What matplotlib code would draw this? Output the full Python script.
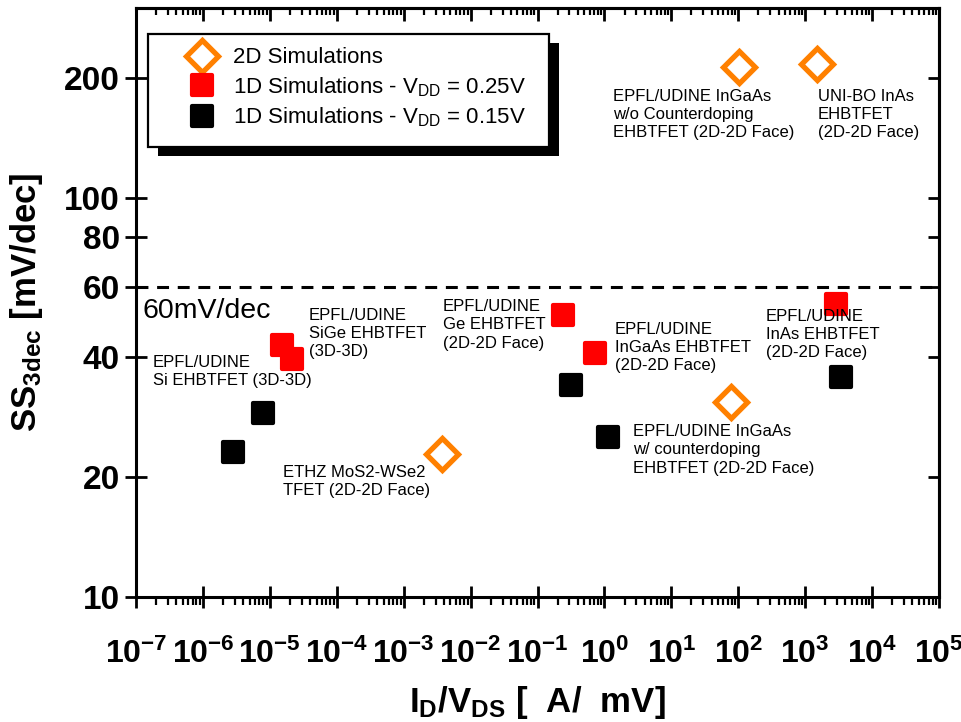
import numpy as np
import matplotlib.pyplot as plt
from matplotlib.markers import MarkerStyle
from matplotlib.patches import Rectangle
from matplotlib.ticker import LogLocator, FuncFormatter, NullFormatter, NullLocator

plt.rcParams['font.family'] = 'Liberation Sans'
plt.rcParams['mathtext.fontset'] = 'custom'
plt.rcParams['mathtext.rm'] = 'Liberation Sans'
plt.rcParams['mathtext.bf'] = 'Liberation Sans:bold'
plt.rcParams['mathtext.it'] = 'Liberation Sans:italic'

# 2D simulations
sim2d_x = [3.7e-3, 78, 104, 1500]
sim2d_y = [22.9, 30.9, 214, 217]

# 1D simulations, VDD = 0.25 V
vdd25_x = [1.51e-5, 2.12e-5, 0.239, 0.726, 2900]
vdd25_y = [42.8, 39.5, 50.9, 40.9, 54.2]

# 1D simulations, VDD = 0.15 V
vdd15_x = [2.85e-6, 7.8e-6, 0.318, 1.15, 3410]
vdd15_y = [23.1, 28.9, 34.0, 25.2, 35.7]

ss_thermal = 60
y_ticks = [10, 20, 40, 60, 80, 100, 200]

device_labels = [
    "EPFL/UDINE\nSiGe EHBTFET\n(3D-3D)",
    "EPFL/UDINE\nSi EHBTFET (3D-3D)",
    "ETHZ MoS2-WSe2\nTFET (2D-2D Face)",
    "EPFL/UDINE\nGe EHBTFET\n(2D-2D Face)",
    "EPFL/UDINE\nInGaAs EHBTFET\n(2D-2D Face)",
    "EPFL/UDINE\nInAs EHBTFET\n(2D-2D Face)",
    "EPFL/UDINE InGaAs\nw/ counterdoping\nEHBTFET (2D-2D Face)",
    "EPFL/UDINE InGaAs\nw/o Counterdoping\nEHBTFET (2D-2D Face)",
    "UNI-BO InAs\nEHBTFET\n(2D-2D Face)",
]
# label anchors (top-left corner) in axes fraction
label_pos = [
    (0.2154, 0.4907), (0.0212, 0.4109), (0.1831, 0.2241),
    (0.3823, 0.5059), (0.5965, 0.4669), (0.7846, 0.4890),
    (0.6189, 0.2937), (0.5940, 0.8625), (0.8493, 0.8625),
]

orange = '#ff8000'
red = '#ff0000'

fig = plt.figure(figsize=(9.62, 7.22), dpi=100)
ax = fig.add_axes([0.1414, 0.1731, 0.8347, 0.8158])
ax.set_xscale('log')
ax.set_yscale('log')
ax.set_xlim(1e-7, 1e5)
ax.set_ylim(10, 300)

ax.axhline(ss_thermal, color='k', lw=2.2, dashes=(3.9, 2.85), zorder=1)

sq = MarkerStyle('s', joinstyle='round')
dia = MarkerStyle('D', joinstyle='miter')
ax.plot(sim2d_x, sim2d_y, ls='none', marker=dia, ms=16, mfc='white',
        mec=orange, mew=3.8, label='2D Simulations', zorder=3)
ax.plot(vdd25_x, vdd25_y, ls='none', marker=sq, ms=15, mfc=red,
        mec=red, mew=3, label=r'1D Simulations - V$_{\mathrm{DD}}$ = 0.25V', zorder=3)
ax.plot(vdd15_x, vdd15_y, ls='none', marker=sq, ms=15, mfc='k',
        mec='k', mew=3, label=r'1D Simulations - V$_{\mathrm{DD}}$ = 0.15V', zorder=3)

for txt, (tx, ty) in zip(device_labels, label_pos):
    ax.text(tx, ty, txt, transform=ax.transAxes, ha='left', va='top',
            fontsize=12, linespacing=1.27, zorder=4)

ax.text(0.008, 0.508, '60mV/dec', transform=ax.transAxes, ha='left',
        va='top', fontsize=20.5)

# legend box with offset shadow
ax.add_patch(Rectangle((0.0274, 0.749), 0.4994, 0.192, transform=ax.transAxes,
                       facecolor='k', edgecolor='none', zorder=5, clip_on=False))
ax.add_patch(Rectangle((0.0149, 0.764), 0.4994, 0.192, transform=ax.transAxes,
                       facecolor='white', edgecolor='k', lw=1.6, zorder=6,
                       clip_on=False))
leg = ax.legend(loc='upper left', bbox_to_anchor=(0.0611, 0.933),
                frameon=False, fontsize=16, handlelength=1.5,
                handletextpad=0.65, labelspacing=0.3, borderpad=0,
                borderaxespad=0, numpoints=1)
leg.set_zorder(7)

# axes styling
for s in ax.spines.values():
    s.set_linewidth(2.2)

ax.xaxis.set_major_locator(LogLocator(base=10, numticks=20))
ax.xaxis.set_minor_locator(LogLocator(base=10, subs=np.arange(2, 10), numticks=20))
ax.xaxis.set_major_formatter(FuncFormatter(
    lambda v, p: r'$\mathbf{10^{%d}}$' % round(np.log10(v))))
ax.xaxis.set_minor_formatter(NullFormatter())
ax.set_yticks(y_ticks, [str(t) for t in y_ticks])
ax.yaxis.set_minor_locator(NullLocator())

ax.tick_params(which='major', direction='inout', length=16, width=2)
ax.tick_params(axis='y', labelsize=24)
ax.tick_params(axis='x', which='major', labelsize=23, pad=22)
ax.tick_params(axis='x', which='minor', direction='out', length=6, width=1.6)
for lbl in ax.get_yticklabels():
    lbl.set_fontweight('bold')

top = ax.secondary_xaxis('top')
top.xaxis.set_major_locator(LogLocator(base=10, numticks=20))
top.xaxis.set_minor_locator(LogLocator(base=10, subs=np.arange(2, 10), numticks=20))
top.xaxis.set_major_formatter(NullFormatter())
top.xaxis.set_minor_formatter(NullFormatter())
top.tick_params(which='major', direction='in', length=9, width=2)
top.tick_params(which='minor', direction='in', length=5, width=1.6)
top.spines['top'].set_linewidth(2.2)

right = ax.secondary_yaxis('right')
right.set_yticks(y_ticks)
right.yaxis.set_minor_locator(NullLocator())
right.yaxis.set_major_formatter(NullFormatter())
right.tick_params(which='major', direction='in', length=8, width=2)
right.spines['right'].set_linewidth(2.2)

ax.set_xlabel(r'$\mathbf{I_D/V_{DS}\ [\ \ A/\ \ mV]}$', fontsize=25, labelpad=10)
ax.set_ylabel(r'$\mathbf{SS_{3dec}\ [mV/dec]}$', fontsize=25, labelpad=14)

fig.savefig('out.png', dpi=100)
